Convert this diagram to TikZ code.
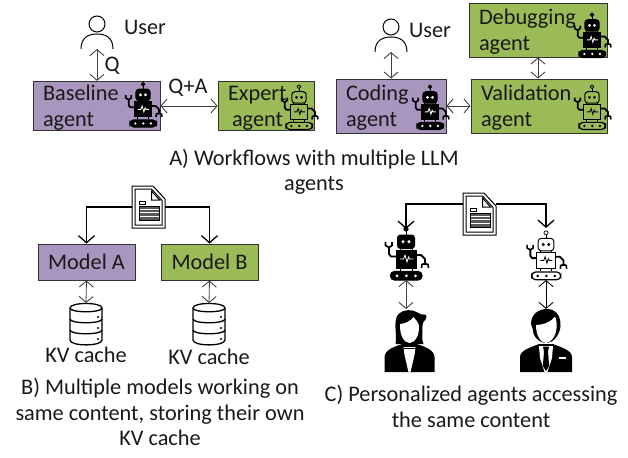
\documentclass[tikz,border=0pt]{standalone}
\usepackage{fontspec}
\setmainfont{Carlito}
\usetikzlibrary{arrows.meta}
\definecolor{boxpurple}{HTML}{A996BE}
\definecolor{boxgreen}{HTML}{9BBB59}
\definecolor{edgegrey}{HTML}{333333}
\newcommand{\liftline}{\rule{0pt}{19pt}}
\tikzset{
  txt/.style={font=\fontsize{22.3}{25.2}\selectfont,inner sep=0pt,align=center,text=black!90},
  agentbox/.style={draw=edgegrey,line width=.9pt,inner xsep=10pt,inner ysep=0pt,align=left,anchor=center,
    font=\fontsize{22.3}{26.5}\selectfont,text=black!90},
  modelbox/.style={draw=edgegrey,line width=.9pt,inner sep=0pt,align=center,
    font=\fontsize{22.3}{26}\selectfont,text=black!90},
  iconbox/.style={inner sep=0pt,outer sep=0pt},
  link/.style={draw=black!75,line width=.9pt,{Straight Barb[length=6pt,width=14pt,line width=.9pt]}-{Straight Barb[length=6pt,width=14pt,line width=.9pt]}},
  feed/.style={draw=black,line width=1.4pt,-{Straight Barb[length=7pt,width=16pt,line width=1.3pt]}},
  pics/robot/.style 2 args={code={
    \draw[line width=.7pt,fill=#1] (0,2) circle (2.2);
    \draw[line width=1pt] (0,4)--(0,8);
    \draw[line width=1pt,fill=#1,rounded corners=3pt] (-8.5,8) rectangle (8.5,21.5);
    \draw[fill=#2,draw=#2] (-3,14.7) circle (1.4) (3,14.7) circle (1.4);
    \draw[line width=1pt,fill=#1] (-10,23) rectangle (10.5,41);
    \draw[line width=.8pt,draw=#2] (-6,32)--(-2.5,32)--(-1,28)--(1,35)--(2.5,30)--(3.5,32)--(7,32);
    \draw[line width=1pt] (-6,21.5)--(-6,23) (6,21.5)--(6,23) (-6,41)--(-6,44) (6,41)--(6,44);
    \draw[line width=1.2pt,fill=#1,rounded corners=4pt] (-15.5,44.5) rectangle (16,53);
    \fill[#2] (-9,48.8) circle (1.5) (0.3,48.8) circle (1.5) (9.5,48.8) circle (1.5);
    \draw[line width=1.8pt] (-10,29.5)--(-15,29.5)--(-17,27)--(-17,20);
    \draw[line width=1.6pt] (-20.5,15)--(-20.5,18.5)--(-17,20.5)--(-14,18.5)--(-14,15);
    \draw[line width=1.8pt] (10.5,28)--(15,28)--(19,32)--(19,38);
    \draw[line width=1.6pt] (15.5,41)--(16,37.5)--(19,36.5)--(22,37.5)--(22.5,41);
  }},
  pics/userline/.style={code={
    \draw[line width=1pt,draw=black] (0,8) circle (8);
    \draw[line width=1pt,draw=black] (-16,33) .. controls (-16,21) and (-8,18) .. (0,18) .. controls (8,18) and (16,21) .. (16,33);
  }},
  pics/docicon/.style={code={
    \draw[line width=1pt,fill=white] (0,0)--(21,0)--(33,13)--(33,42)--(0,42)--cycle;
    \draw[line width=1pt] (3,3)--(19.5,3)--(30,14.5)--(30,39)--(3,39)--cycle;
    \draw[line width=1pt] (19.5,5)--(19.5,14)--(27.5,14)--cycle;
    \fill[black!65] (7,20) rectangle (27,34);
    \draw[line width=.7pt,draw=white] (7,23) -- (27,23) (7,26.5) -- (27,26.5) (7,30) -- (27,30);
    \draw[line width=.7pt] (7,15.5) rectangle (13,18);
    \draw[line width=.7pt] (7,20) rectangle (27,34);
  }},
  pics/dbicon/.style={code={
    \draw[line width=1.3pt,fill=white] (-16,5) .. controls (-16,-1) and (16,-1) .. (16,5)
      -- (16,37) .. controls (16,43.5) and (-16,43.5) .. (-16,37) -- cycle;
    \draw[line width=1.3pt] (-16,5) .. controls (-16,10) and (16,10) .. (16,5);
    \draw[line width=1.3pt] (-16,16) .. controls (-16,21) and (16,21) .. (16,16);
    \draw[line width=1.3pt] (-16,27) .. controls (-16,32) and (16,32) .. (16,27);
    \fill (12,14) circle (1.2) (12,25) circle (1.2) (12,36) circle (1.2);
  }},
  pics/woman/.style={code={
    \fill (-25,62) -- (-25,47) .. controls (-25,40) and (-14,36) .. (-7,34) -- (7,34) .. controls (14,36) and (25,40) .. (25,47) -- (25,62) -- cycle;
    \fill (-14,34) .. controls (-12,26) and (-17,10) .. (-11,4) .. controls (-6,-1) and (3,-1) .. (9,3)
      .. controls (12,6) and (16,3) .. (17,6) .. controls (17,11) and (13,10) .. (13,16)
      .. controls (13,24) and (12,30) .. (14,34) -- cycle;
    \fill[white] (-9.5,14) .. controls (-5,14) and (1,11) .. (4,7) .. controls (6,10) and (9,12) .. (9.5,16)
      .. controls (10,26) and (5,33) .. (0,33) .. controls (-5,33) and (-10,26) .. (-9.5,14) -- cycle;
    \fill[white] (-6,37) -- (6,37) -- (5,45) -- (1,62) -- (-1,62) -- (-5,45) -- cycle;
    \fill (-6,37.5) -- (6,37.5) -- (6,39) -- (-6,39) -- cycle;
  }},
  pics/man/.style={code={
    \fill (-26,62) -- (-26,47) .. controls (-26,40) and (-14,37) .. (-7,34) -- (7,34) .. controls (14,37) and (26,40) .. (26,47) -- (26,62) -- cycle;
    \fill (-15,14) .. controls (-15,3) and (-6,-1) .. (1,-1) .. controls (9,-1) and (15,5) .. (14.5,16)
      .. controls (14,24) and (8,33) .. (0,33) .. controls (-8,33) and (-14,24) .. (-13,20) -- cycle;
    \fill[white] (-10,15) .. controls (-4,15) and (4,13) .. (9,6.5) .. controls (10.5,10) and (11,14) .. (10.5,18)
      .. controls (10,26) and (5,33) .. (0,33) .. controls (-5,33) and (-10,26) .. (-10,15) -- cycle;
    \fill[white] (-7,36) -- (7,36) -- (6,48) -- (1.5,62) -- (-1.5,62) -- (-6,48) -- cycle;
    \fill (-3,36.5) -- (3,36.5) -- (2,42) -- (3.2,56) -- (0,61) -- (-3.2,56) -- (-2,42) -- cycle;
    \draw[white,line width=1.1pt] (13,48) -- (20,48);
  }},
}
\begin{document}
\begin{tikzpicture}[x=1pt,y=-1pt]
\useasboundingbox (0,0) rectangle (628,457);
% --- A: left workflow
\node[iconbox,minimum width=32pt,minimum height=33pt] (user1) at (97,32.5) {};
\pic at (97,16) {userline};
\node[txt] (user1label) at (145,27) {User};
\node[agentbox,fill=boxpurple,minimum width=127pt,minimum height=48pt,text width=107pt] (base) at (96.5,106) {\liftline Baseline\\agent};
\node[agentbox,fill=boxgreen,minimum width=96pt,minimum height=48pt,text width=76pt] (expert) at (266,106) {\liftline Expert\\\hspace*{4pt}agent};
\pic[scale=.84] at (143,82.5) {robot={black}{white}};
\pic[scale=.84] at (299,85) {robot={none}{black}};
\draw[link] (user1.south) -- (user1.south |- base.north);
\draw[link] (base.east) -- (expert.west);
\node[txt] (qlabel) at (112,66) {Q};
\node[txt] (qalabel) at (188,88) {Q+A};
% --- A: right workflow
\node[iconbox,minimum width=32pt,minimum height=33pt] (user2) at (391,35.5) {};
\pic at (391,19) {userline};
\node[txt] (user2label) at (430,30) {User};
\node[agentbox,fill=boxpurple,minimum width=110pt,minimum height=54pt,text width=90pt] (coding) at (391,106) {\liftline Coding\\agent};
\node[agentbox,fill=boxgreen,minimum width=136pt,minimum height=54pt,text width=116pt] (valid) at (539,106) {\liftline Validation\\agent};
\node[agentbox,fill=boxgreen,minimum width=138pt,minimum height=54pt,text width=118pt] (debug) at (538,30) {\liftline Debugging\\agent};
\pic[scale=.84] at (430,85) {robot={black}{white}};
\pic[scale=.84] at (592,85) {robot={none}{black}};
\pic[scale=.84] at (592,13) {robot={black}{white}};
\draw[link] (user2.south) -- (user2.south |- coding.north);
\draw[link] (coding.east) -- (valid.west);
\draw[link] (debug.south) -- (debug.south |- valid.north);
\node[txt] (capA) at (314,172) {A) Workflows with multiple LLM\\agents};
% --- B
\node[iconbox,minimum width=33pt,minimum height=42pt] (doc1) at (148.5,207) {};
\pic at (132,186) {docicon};
\node[modelbox,fill=boxpurple,minimum width=97pt,minimum height=36pt] (modela) at (86.5,262) {Model A};
\node[modelbox,fill=boxgreen,minimum width=97pt,minimum height=36pt] (modelb) at (209.5,262) {Model B};
\draw[feed] (doc1.west) -| (modela.north);
\draw[feed] (doc1.east) -| (modelb.north);
\node[iconbox,minimum width=32pt,minimum height=42pt] (dba) at (86,324) {};
\node[iconbox,minimum width=32pt,minimum height=42pt] (dbb) at (209,324) {};
\pic at (86,303) {dbicon};
\pic at (209,303) {dbicon};
\draw[link,line width=.8pt] (modela.south) -- (dba.north);
\draw[link,line width=.8pt] (modelb.south) -- (dbb.north);
\node[txt] (kva) at (86,355) {KV cache};
\node[txt] (kvb) at (209,357) {KV cache};
\node[txt] (capB) at (160,412) {B) Multiple models working on\\same content, storing their own\\KV cache};
% --- C
\node[iconbox,minimum width=33pt,minimum height=42pt] (doc2) at (479.5,214) {};
\pic at (463,193) {docicon};
\node[iconbox,minimum width=44pt,minimum height=51pt] (robota) at (406,254.5) {};
\node[iconbox,minimum width=42pt,minimum height=52pt] (robotb) at (546,254) {};
\pic[scale=1] at (406,227) {robot={black}{white}};
\pic[scale=.92] at (546,231) {robot={none}{black}};
\draw[feed] ([yshift=10pt]doc2.west) -| (robota.north);
\draw[feed] ([yshift=10pt]doc2.east) -| (robotb.north);
\node[iconbox,minimum width=50pt,minimum height=64pt] (persona) at (406,341) {};
\node[iconbox,minimum width=52pt,minimum height=64pt] (personb) at (546,341) {};
\pic at (409.5,310) {woman};
\pic at (546,310) {man};
\draw[link] (robota.south) -- (persona.north);
\draw[link,draw=black] (robotb.south) -- (personb.north);
\node[txt] (capC) at (471,406.5) {C) Personalized agents accessing\\the same content};
\end{tikzpicture}
\end{document}
